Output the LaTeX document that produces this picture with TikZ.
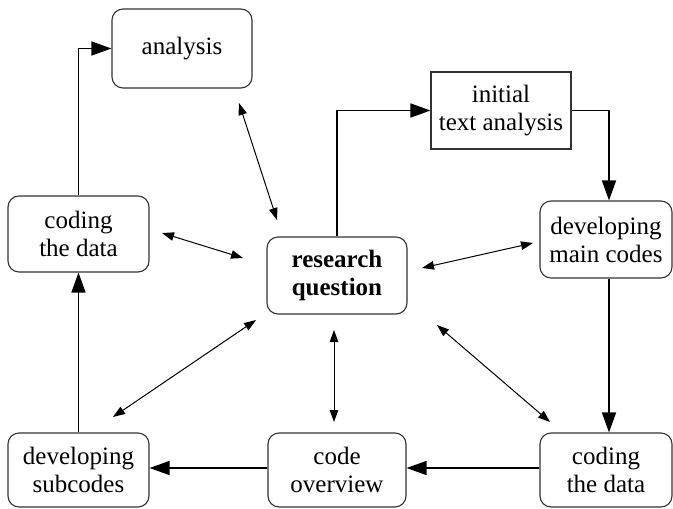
\documentclass[tikz,border=0pt]{standalone}
\usepackage{fontspec}
\setmainfont{Liberation Serif}
\usetikzlibrary{arrows.meta}
\begin{document}
\begin{tikzpicture}[x=1pt,y=-1pt,
  box/.style={draw=black!80, line width=1.1pt, rounded corners=11pt, align=center,
    inner sep=0pt, font=\fontsize{25}{28}\selectfont},
  sharpbox/.style={box, rounded corners=0pt},
  flow/.style={draw=black, line width=1.5pt, -{Triangle[length=20pt,width=14pt]}},
  link/.style={draw=black, line width=1pt, {Triangle[length=12pt,width=8.5pt]}-{Triangle[length=12pt,width=8.5pt]}}]
\useasboundingbox (0,0) rectangle (673,509);
% nodes
\node[box, minimum width=140pt, minimum height=79pt] (analysis) at (182,48.5) {analysis};
\node[sharpbox, minimum width=140pt, minimum height=77pt] (init) at (501,110.5) {initial\\text analysis};
\node[box, minimum width=141pt, minimum height=76pt] (codeL) at (78.5,234) {coding\\the data};
\node[box, minimum width=140pt, minimum height=77pt] (rq) at (337,275.5) {\textbf{research}\\\textbf{question}};
\node[box, minimum width=132pt, minimum height=77pt] (main) at (606,239.5) {developing\\main codes};
\node[box, minimum width=141pt, minimum height=74pt] (sub) at (78.5,470) {developing\\subcodes};
\node[box, minimum width=138pt, minimum height=74pt] (over) at (337,470) {code\\overview};
\node[box, minimum width=132pt, minimum height=74pt] (codeR) at (606,470) {coding\\the data};
% flow arrows
\draw[flow] (codeL.north) |- (analysis.west);
\draw[flow] (rq.north) |- (init.west);
\draw[flow] (init.east) -| ([xshift=3pt]main.north);
\draw[flow] ([xshift=3pt]main.south) -- ([xshift=3pt]codeR.north);
\draw[flow] ([yshift=2pt]codeR.west) -- ([yshift=2pt]over.east);
\draw[flow] ([yshift=2pt]over.west) -- ([yshift=2pt]sub.east);
\draw[flow] (sub.north) -- (codeL.south);
% free ends of the two-way links
\coordinate (a1) at (239,103);  \coordinate (a2) at (277,220);
\coordinate (b1) at (162,233);  \coordinate (b2) at (243,258);
\coordinate (c1) at (422,268);  \coordinate (c2) at (533,243);
\coordinate (d1) at (256,320);  \coordinate (d2) at (113,417);
\coordinate (e1) at (334,330);  \coordinate (e2) at (334,422);
\coordinate (f1) at (437,325);  \coordinate (f2) at (550,422);
\draw[link] (a1) -- (a2);
\draw[link] (b1) -- (b2);
\draw[link] (c1) -- (c2);
\draw[link] (d1) -- (d2);
\draw[link] (e1) -- (e2);
\draw[link] (f1) -- (f2);
\end{tikzpicture}
\end{document}
